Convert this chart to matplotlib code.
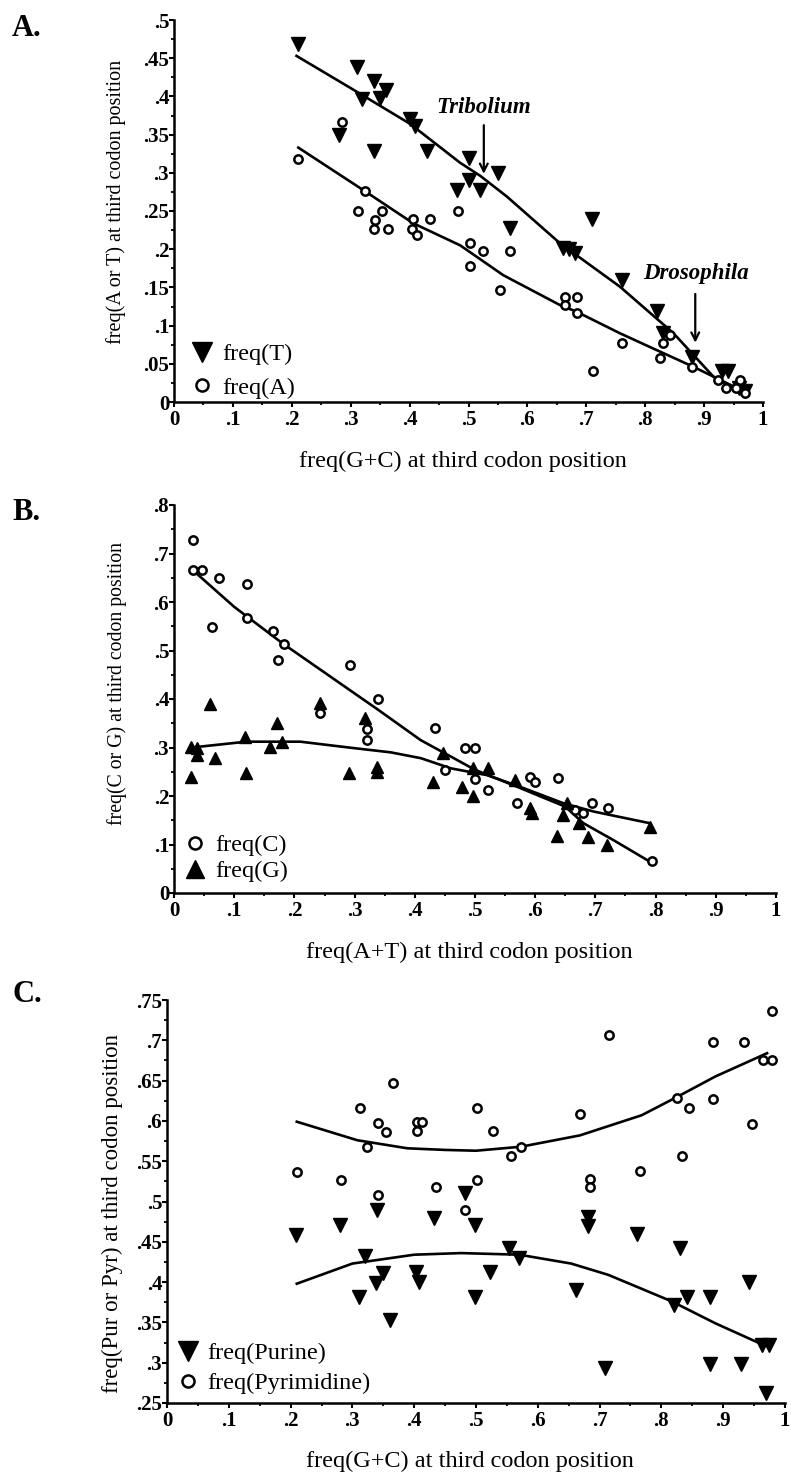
import matplotlib
matplotlib.use('Agg')
import matplotlib.pyplot as plt
import numpy as np
from matplotlib.ticker import MultipleLocator

plt.rcParams['font.family'] = ['Liberation Serif', 'DejaVu Serif']

# ---------------- Panel A data ----------------
aT_x = [0.21, 0.28, 0.31, 0.32, 0.34, 0.34, 0.35, 0.36, 0.40, 0.41, 0.43, 0.48, 0.50, 0.50, 0.52,
        0.55, 0.57, 0.66, 0.67, 0.68, 0.71, 0.76, 0.82, 0.83, 0.88, 0.93, 0.94, 0.96, 0.97]
aT_y = [0.468, 0.350, 0.438, 0.396, 0.420, 0.328, 0.398, 0.409, 0.370, 0.361, 0.328, 0.278, 0.320, 0.291, 0.278,
        0.300, 0.228, 0.202, 0.200, 0.195, 0.239, 0.160, 0.119, 0.090, 0.059, 0.040, 0.040, 0.018, 0.015]
aA_x = [0.211, 0.285, 0.313, 0.324, 0.341, 0.340, 0.353, 0.364, 0.404, 0.406, 0.412, 0.435, 0.483, 0.503,
        0.503, 0.525, 0.553, 0.570, 0.664, 0.664, 0.684, 0.684, 0.712, 0.760, 0.825, 0.831, 0.842, 0.879,
        0.924, 0.938, 0.955, 0.961, 0.970]
aA_y = [0.318, 0.367, 0.250, 0.276, 0.238, 0.226, 0.250, 0.226, 0.226, 0.239, 0.219, 0.239, 0.250, 0.208,
        0.178, 0.197, 0.147, 0.197, 0.138, 0.127, 0.138, 0.116, 0.040, 0.077, 0.057, 0.077, 0.088, 0.046,
        0.029, 0.018, 0.018, 0.029, 0.012]
aT_fit_x = [0.208, 0.304, 0.401, 0.486, 0.520, 0.565, 0.655, 0.757, 0.848, 0.916, 0.967]
aT_fit_y = [0.453, 0.409, 0.364, 0.313, 0.296, 0.269, 0.208, 0.151, 0.090, 0.033, 0.011]
aA_fit_x = [0.211, 0.324, 0.406, 0.486, 0.559, 0.655, 0.684, 0.757, 0.825, 0.882, 0.927, 0.967]
aA_fit_y = [0.333, 0.276, 0.234, 0.205, 0.166, 0.127, 0.118, 0.090, 0.066, 0.046, 0.029, 0.014]

# ---------------- Panel B data ----------------
bC_x = [0.032, 0.032, 0.046, 0.063, 0.074, 0.122, 0.122, 0.164, 0.173, 0.182, 0.243, 0.292, 0.320, 0.320,
        0.339, 0.434, 0.450, 0.483, 0.500, 0.500, 0.522, 0.569, 0.591, 0.600, 0.638, 0.666, 0.680, 0.694,
        0.721, 0.794]
bC_y = [0.728, 0.666, 0.666, 0.549, 0.649, 0.637, 0.568, 0.541, 0.480, 0.513, 0.372, 0.470, 0.339, 0.315,
        0.401, 0.340, 0.254, 0.300, 0.300, 0.236, 0.212, 0.185, 0.240, 0.229, 0.238, 0.171, 0.164, 0.185,
        0.176, 0.066]
bG_x = [0.028, 0.028, 0.038, 0.038, 0.059, 0.068, 0.118, 0.120, 0.160, 0.171, 0.179, 0.243, 0.290, 0.317,
        0.337, 0.337, 0.431, 0.447, 0.478, 0.497, 0.497, 0.522, 0.566, 0.591, 0.594, 0.636, 0.652, 0.647,
        0.672, 0.688, 0.719, 0.791]
bG_y = [0.302, 0.240, 0.300, 0.285, 0.390, 0.278, 0.322, 0.247, 0.302, 0.350, 0.312, 0.391, 0.248, 0.360,
        0.260, 0.250, 0.229, 0.288, 0.218, 0.199, 0.257, 0.257, 0.233, 0.175, 0.164, 0.118, 0.185, 0.161,
        0.144, 0.116, 0.099, 0.137]
bC_fit_x = [0.03, 0.10, 0.18, 0.26, 0.34, 0.41, 0.45, 0.50, 0.57, 0.65, 0.68, 0.73, 0.79]
bC_fit_y = [0.667, 0.59, 0.515, 0.446, 0.377, 0.315, 0.288, 0.254, 0.219, 0.178, 0.144, 0.109, 0.065]
bG_fit_x = [0.03, 0.12, 0.21, 0.29, 0.36, 0.41, 0.46, 0.52, 0.575, 0.647, 0.697, 0.79]
bG_fit_y = [0.300, 0.312, 0.312, 0.300, 0.290, 0.278, 0.257, 0.243, 0.219, 0.185, 0.168, 0.144]

# ---------------- Panel C data ----------------
cPyr_x = [0.210, 0.281, 0.312, 0.323, 0.341, 0.341, 0.354, 0.365, 0.405, 0.413, 0.405, 0.435, 0.482, 0.502,
          0.502, 0.527, 0.556, 0.573, 0.668, 0.684, 0.684, 0.716, 0.765, 0.826, 0.833, 0.844, 0.884, 0.884,
          0.934, 0.946, 0.965, 0.979, 0.979]
cPyr_y = [0.537, 0.527, 0.616, 0.567, 0.598, 0.508, 0.586, 0.647, 0.599, 0.599, 0.587, 0.518, 0.489, 0.616,
          0.527, 0.587, 0.556, 0.568, 0.609, 0.528, 0.518, 0.707, 0.538, 0.628, 0.556, 0.616, 0.698, 0.627,
          0.698, 0.596, 0.676, 0.676, 0.736]
cPur_x = [0.208, 0.280, 0.310, 0.321, 0.339, 0.338, 0.350, 0.361, 0.403, 0.408, 0.432, 0.482, 0.499, 0.499,
          0.523, 0.554, 0.570, 0.662, 0.682, 0.682, 0.708, 0.761, 0.821, 0.830, 0.841, 0.879, 0.879, 0.929,
          0.941, 0.963, 0.974, 0.969]
cPur_y = [0.458, 0.471, 0.382, 0.432, 0.489, 0.399, 0.411, 0.353, 0.412, 0.400, 0.479, 0.510, 0.471, 0.382,
          0.412, 0.442, 0.430, 0.390, 0.481, 0.469, 0.293, 0.460, 0.372, 0.442, 0.382, 0.382, 0.299, 0.299,
          0.400, 0.322, 0.322, 0.262]
cPyr_fit_x = [0.21, 0.308, 0.389, 0.45, 0.50, 0.573, 0.668, 0.768, 0.826, 0.887, 0.971]
cPyr_fit_y = [0.599, 0.576, 0.566, 0.564, 0.563, 0.568, 0.582, 0.607, 0.630, 0.655, 0.684]
cPur_fit_x = [0.21, 0.30, 0.40, 0.476, 0.57, 0.654, 0.714, 0.817, 0.887, 0.965]
cPur_fit_y = [0.398, 0.423, 0.434, 0.436, 0.434, 0.423, 0.409, 0.376, 0.349, 0.322]

# ticks
x_ticks = [0, 0.1, 0.2, 0.3, 0.4, 0.5, 0.6, 0.7, 0.8, 0.9, 1.0]
x_ticklabels = ['0', '.1', '.2', '.3', '.4', '.5', '.6', '.7', '.8', '.9', '1']
a_yticks = [0, 0.05, 0.1, 0.15, 0.2, 0.25, 0.3, 0.35, 0.4, 0.45, 0.5]
a_yticklabels = ['0', '.05', '.1', '.15', '.2', '.25', '.3', '.35', '.4', '.45', '.5']
b_yticks = [0, 0.1, 0.2, 0.3, 0.4, 0.5, 0.6, 0.7, 0.8]
b_yticklabels = ['0', '.1', '.2', '.3', '.4', '.5', '.6', '.7', '.8']
c_yticks = [0.25, 0.3, 0.35, 0.4, 0.45, 0.5, 0.55, 0.6, 0.65, 0.7, 0.75]
c_yticklabels = ['.25', '.3', '.35', '.4', '.45', '.5', '.55', '.6', '.65', '.7', '.75']

W, H = 791, 1478
fig = plt.figure(figsize=(W / 100, H / 100), dpi=100)

def make_axes(left, right, top, bottom):
    return fig.add_axes([left / W, 1 - bottom / H, (right - left) / W, (bottom - top) / H])

axA = make_axes(174, 763, 20, 402)
axB = make_axes(174, 776, 505, 893)
axC = make_axes(167, 785, 1000, 1403)

LW = 1.9
TICKFS = 15
XLABFS = 17.5
LEGFS = 17.5

def style(ax, yticks, yticklabels, ylim, yminor):
    ax.set_xlim(0, 1)
    ax.set_ylim(*ylim)
    for s in ['top', 'right']:
        ax.spines[s].set_visible(False)
    for s in ['left', 'bottom']:
        ax.spines[s].set_linewidth(1.8)
    ax.set_xticks(x_ticks)
    ax.set_xticklabels(x_ticklabels, fontsize=TICKFS, fontweight='bold')
    ax.set_yticks(yticks)
    ax.set_yticklabels(yticklabels, fontsize=TICKFS, fontweight='bold')
    ax.xaxis.set_minor_locator(MultipleLocator(0.05))
    ax.yaxis.set_minor_locator(MultipleLocator(yminor))
    ax.tick_params(axis='both', which='major', direction='out', length=3.5, width=1.5)
    ax.tick_params(axis='both', which='minor', direction='out', length=2.5, width=1.3)
    ax.tick_params(axis='x', which='major', pad=2)
    ax.tick_params(axis='y', which='major', pad=0)
    ax.patch.set_visible(False)

def legend(ax, x0, y0, spacing):
    ax.legend(loc='lower left', bbox_to_anchor=(x0, y0), frameon=False, fontsize=LEGFS,
              handlelength=0.8, handletextpad=0.42, labelspacing=spacing, borderpad=0.0,
              borderaxespad=0.0, markerscale=1.45)

# ---------------- Panel A ----------------
axA.plot(aT_fit_x, aT_fit_y, color='black', lw=LW, zorder=2)
axA.plot(aA_fit_x, aA_fit_y, color='black', lw=LW, zorder=2)
axA.plot(aT_x, aT_y, linestyle='none', marker='v', ms=9.5, color='black', label='freq(T)', zorder=3)
axA.plot(aA_x, aA_y, linestyle='none', marker='o', ms=6, mfc='white', mec='black', mew=1.8,
         label='freq(A)', zorder=3)
style(axA, a_yticks, a_yticklabels, (0, 0.5), 0.025)
axA.set_xlabel('freq(G+C) at third codon position', fontsize=XLABFS, va='center')
axA.set_ylabel('freq(A or T) at third codon position', fontsize=14.5, va='center')
axA.xaxis.set_label_coords(0.49, -0.155)
axA.yaxis.set_label_coords(-0.098, 0.524)
axA.annotate('', xy=(0.526, 0.295), xytext=(0.526, 0.366),
             arrowprops=dict(arrowstyle='->', lw=1.6, color='black', mutation_scale=14))
axA.text(0.525, 0.385, 'Tribolium', fontsize=16.5, fontstyle='italic', fontweight='bold',
         ha='center', va='center')
axA.annotate('', xy=(0.885, 0.074), xytext=(0.885, 0.145),
             arrowprops=dict(arrowstyle='->', lw=1.6, color='black', mutation_scale=14))
axA.text(0.886, 0.168, 'Drosophila', fontsize=16.5, fontstyle='italic', fontweight='bold',
         ha='center', va='center')
legend(axA, 0.031, 0.008, 0.49)

# ---------------- Panel B ----------------
axB.plot(bC_fit_x, bC_fit_y, color='black', lw=LW, zorder=2)
axB.plot(bG_fit_x, bG_fit_y, color='black', lw=LW, zorder=2)
axB.plot(bC_x, bC_y, linestyle='none', marker='o', ms=6, mfc='white', mec='black', mew=1.8,
         label='freq(C)', zorder=3)
axB.plot(bG_x, bG_y, linestyle='none', marker='^', ms=9, color='black', label='freq(G)', zorder=3)
style(axB, b_yticks, b_yticklabels, (0, 0.8), 0.05)
axB.set_xlabel('freq(A+T) at third codon position', fontsize=XLABFS, va='center')
axB.set_ylabel('freq(C or G) at third codon position', fontsize=14.2, va='center')
axB.xaxis.set_label_coords(0.49, -0.152)
axB.yaxis.set_label_coords(-0.095, 0.541)
legend(axB, 0.019, 0.028, 0.16)

# ---------------- Panel C ----------------
axC.plot(cPyr_fit_x, cPyr_fit_y, color='black', lw=LW, zorder=2)
axC.plot(cPur_fit_x, cPur_fit_y, color='black', lw=LW, zorder=2)
axC.plot(cPur_x, cPur_y, linestyle='none', marker='v', ms=9.5, color='black', label='freq(Purine)', zorder=3)
axC.plot(cPyr_x, cPyr_y, linestyle='none', marker='o', ms=6, mfc='white', mec='black', mew=1.8,
         label='freq(Pyrimidine)', zorder=3)
style(axC, c_yticks, c_yticklabels, (0.25, 0.75), 0.025)
axC.set_xlabel('freq(G+C) at third codon position', fontsize=XLABFS, va='center')
axC.set_ylabel('freq(Pur or Pyr) at third codon position', fontsize=16.5, va='center')
axC.xaxis.set_label_coords(0.49, -0.146)
axC.yaxis.set_label_coords(-0.089, 0.47)
legend(axC, 0.018, 0.022, 0.33)

# panel letters
fig.text(12 / W, 1 - 28 / H, 'A.', fontsize=22, fontweight='bold', va='center', ha='left')
fig.text(12 / W, 1 - 512 / H, 'B.', fontsize=22, fontweight='bold', va='center', ha='left')
fig.text(12 / W, 1 - 995 / H, 'C.', fontsize=22, fontweight='bold', va='center', ha='left')

fig.savefig('out.png', dpi=100, facecolor='white')
